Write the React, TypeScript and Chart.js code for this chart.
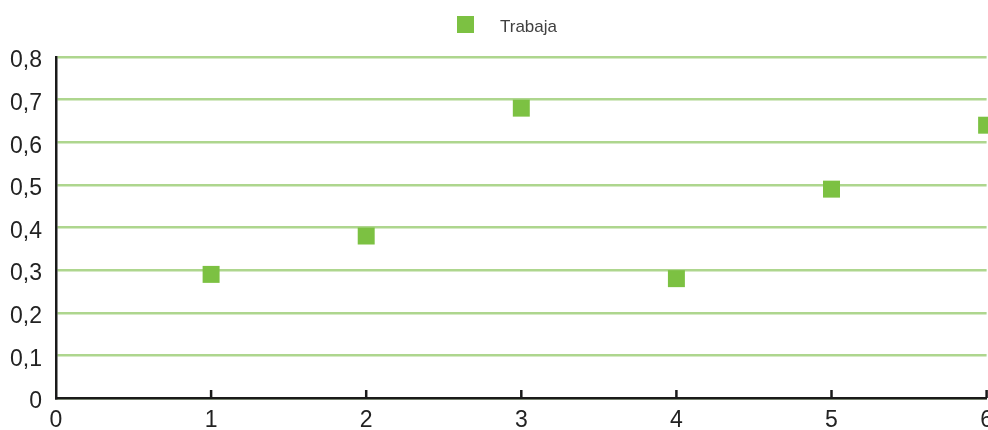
import React, { useEffect, useRef } from "react";
import { Chart, registerables } from "chart.js";

Chart.register(...registerables);

const seriesName = "Trabaja";
const xValues = [1, 2, 3, 4, 5, 6];
const yValues = [0.29, 0.38, 0.68, 0.28, 0.49, 0.64];
const yTickLabels = ["0", "0,1", "0,2", "0,3", "0,4", "0,5", "0,6", "0,7", "0,8"];
const xTickLabels = ["0", "1", "2", "3", "4", "5", "6"];

const pointColor = "#7cc142";
const gridColor = "#aed68e";
const axisColor = "#1a1a1a";
const fontFamily = "'Liberation Sans Narrow', 'Liberation Sans', Arial, sans-serif";

const innerTicks = {
  id: "innerTicks",
  afterDatasetsDraw(chart: any) {
    const x = chart.scales.x;
    const bottom = chart.chartArea.bottom;
    const ctx = chart.ctx;
    ctx.save();
    ctx.strokeStyle = axisColor;
    ctx.lineWidth = 2.5;
    for (let i = 1; i < xTickLabels.length; i++) {
      const px = x.getPixelForValue(i);
      ctx.beginPath();
      ctx.moveTo(px, bottom);
      ctx.lineTo(px, bottom - 8);
      ctx.stroke();
    }
    ctx.restore();
  },
};

export default function App() {
  const ref = useRef<HTMLCanvasElement>(null);
  useEffect(() => {
    if (!ref.current) return;
    const chart = new Chart(ref.current, {
      type: "scatter",
      data: {
        datasets: [
          {
            label: seriesName,
            data: xValues.map((x, i) => ({ x, y: yValues[i] })),
            backgroundColor: pointColor,
            borderColor: pointColor,
            borderWidth: 0,
            pointStyle: "rect",
            pointRadius: 12,
            pointHoverRadius: 12,
            clip: false as any,
          },
        ],
      },
      options: {
        animation: false,
        responsive: true,
        maintainAspectRatio: false,
        layout: { padding: { left: 0, right: 12, top: 57, bottom: 0 } },
        plugins: { legend: { display: false }, tooltip: { enabled: false } },
        scales: {
          x: {
            type: "linear",
            min: 0,
            max: 6,
            grid: { display: false, drawTicks: false },
            border: { display: true, color: axisColor, width: 2.5 },
            afterFit: (s: any) => {
              s.height = 32;
            },
            ticks: {
              stepSize: 1,
              padding: 9,
              color: "#222",
              font: { family: fontFamily, size: 23 },
              callback: (v: any, i: number) => xTickLabels[i],
            },
          },
          y: {
            type: "linear",
            min: 0,
            max: 0.8,
            grid: { color: gridColor, lineWidth: 2.5, drawTicks: false },
            border: { display: true, color: axisColor, width: 2.5 },
            afterFit: (s: any) => {
              s.width = 56;
            },
            ticks: {
              stepSize: 0.1,
              padding: 14,
              labelOffset: 4,
              color: "#222",
              font: { family: fontFamily, size: 23 },
              callback: (v: any, i: number) => yTickLabels[i],
            },
          },
        },
      },
      plugins: [innerTicks],
    });
    return () => chart.destroy();
  }, []);

  return (
    <div style={{ position: "fixed", left: 0, top: 0, width: 1002, height: 430 }}>
      <canvas ref={ref} />
      <div
        style={{
          position: "absolute",
          left: 457,
          top: 16,
          width: 17,
          height: 17,
          background: pointColor,
        }}
      />
      <div
        style={{
          position: "absolute",
          left: 500,
          top: 17,
          fontFamily,
          fontSize: 17,
          color: "#404040",
          lineHeight: "20px",
        }}
      >
        {seriesName}
      </div>
    </div>
  );
}
